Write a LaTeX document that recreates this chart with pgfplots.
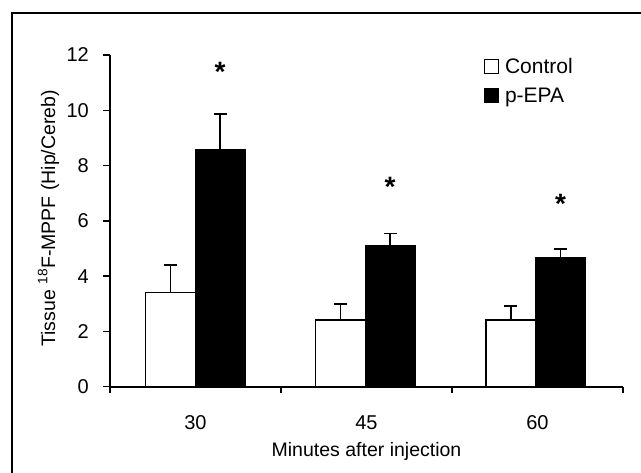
\documentclass[border=0pt]{standalone}
\usepackage{fontspec}
\setmainfont{Liberation Sans}
\usepackage{pgfplots}
\pgfplotsset{compat=1.18}
\begin{document}
\begin{tikzpicture}[x=1pt,y=1pt]
\begin{axis}[
  at={(110pt,86.3pt)}, anchor=south west,
  scale only axis, width=513pt, height=331.7pt,
  xmin=0, xmax=3, ymin=0, ymax=12,
  axis lines*=left,
  axis line style={line width=1.8pt, black},
  tick align=outside,
  xtick={0.5,1.5,2.5}, xticklabels={30,45,60},
  major x tick style={draw=none},
  minor xtick={0,1,2,3},
  ytick={0,2,4,6,8,10,12},
  major tick length=6.5pt, minor tick length=6.5pt,
  every tick/.append style={line width=1.5pt, black},
  tick label style={font=\fontsize{20}{20}\selectfont, inner sep=0pt},
  /pgf/number format/assume math mode=true,
  xticklabel style={anchor=center, yshift=-29.3pt},
  yticklabel style={anchor=east, xshift=-14.5pt},
  xlabel={Minutes after injection},
  xlabel style={at={(axis description cs:0.5,0)}, anchor=base, yshift=-69.5pt, inner sep=0pt, font=\fontsize{19.5}{19.5}\selectfont},
  ylabel={Tissue \textsuperscript{18}F-MPPF (Hip/Cereb)},
  ylabel style={at={(axis description cs:-0.1072,0.5075)}, anchor=base, inner sep=0pt, font=\fontsize{19.5}{19.5}\selectfont},
  legend style={draw=none, fill=none, at={(axis description cs:0.728,0.995)}, anchor=north west, font=\fontsize{21}{21}\selectfont, row sep=11pt, inner sep=0pt, nodes={inner sep=1pt}},
  legend cell align=left,
  legend image code/.code={\draw[#1, line width=1.2pt] (0pt,-7pt) rectangle (14pt,7pt); \path (19pt,0pt);},
  clip=false,
]
\addplot[ybar, bar width=0.29, bar shift=0pt, fill=white, draw=black, line width=1.5pt,
  error bars/.cd, y dir=plus, y explicit,
  error bar style={line width=1.5pt, black},
  error mark options={black, line width=1.5pt, mark size=6.5pt, rotate=90}]
  coordinates {(0.354,3.40) +- (0,1.00) (1.348,2.41) +- (0,0.58) (2.345,2.41) +- (0,0.51)};
\addlegendentry{Control}
\addplot[ybar, bar width=0.29, bar shift=0pt, fill=black, draw=black, line width=1.5pt,
  error bars/.cd, y dir=plus, y explicit,
  error bar style={line width=1.5pt, black},
  error mark options={black, line width=1.5pt, mark size=6.5pt, rotate=90}]
  coordinates {(0.644,8.59) +- (0,1.28) (1.638,5.10) +- (0,0.45) (2.635,4.67) +- (0,0.32)};
\addlegendentry{p-EPA}
\addplot[draw=none, mark=none, forget plot,
  nodes near coords={\textbf{*}},
  every node near coord/.style={anchor=base, inner sep=0pt, font=\fontsize{28}{28}\selectfont}]
  coordinates {(0.644,11.03) (1.638,6.88) (2.635,6.27)};
\end{axis}
\draw[line width=2pt] (12pt,-5pt) -- (12pt,460pt) -- (650pt,460pt);
\pgfresetboundingbox
\path (0,0) rectangle (641pt,473pt);
\end{tikzpicture}
\end{document}
